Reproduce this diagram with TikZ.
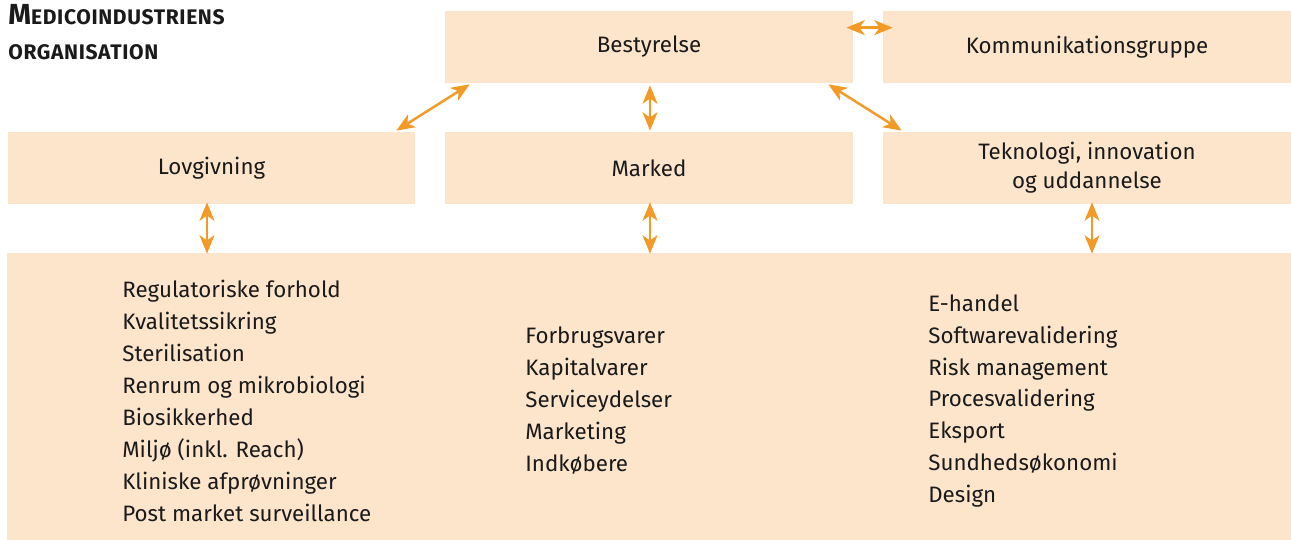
\documentclass[tikz,border=0pt]{standalone}
\usepackage{fontspec}
\setmainfont{Fira Sans}
\usetikzlibrary{arrows.meta,calc}
%
\definecolor{boxfill}{RGB}{253,229,204}
\definecolor{arrorange}{RGB}{243,154,38}
\definecolor{txt}{RGB}{26,26,26}
%
\tikzset{
  orgbox/.style={fill=boxfill, draw=none, minimum width=8.16cm, minimum height=1.44cm, inner sep=0pt},
  listtext/.style={anchor=west, align=left, inner sep=0pt},
  arr/.style={draw=arrorange, line width=1.4pt, {Stealth[length=10.5pt, width=8.5pt, inset=3pt]}-{Stealth[length=10.5pt, width=8.5pt, inset=3pt]}}
}
\begin{document}
\begin{tikzpicture}[x=0.02cm, y=0.02cm, font=\fontsize{12.7}{18.2}\selectfont, text=txt]
      \useasboundingbox (0,0) rectangle (1291,540);
      %
      \node[anchor=base west, inner sep=0pt, font=\bfseries\addfontfeature{LetterSpace=3}] (title1) at (8,515)
        {{\fontsize{16.5}{18}\selectfont M}{\fontsize{12}{13}\selectfont EDICOINDUSTRIENS}};
      \node[anchor=base west, inner sep=0pt, font=\bfseries\addfontfeature{LetterSpace=3}\fontsize{12}{13}\selectfont] (title2) at (8,480)
        {ORGANISATION};
      %
      \node[orgbox] (best) at (649,493) {Bestyrelse};                 % top row
      \node[orgbox] (komm) at (1087,493) {Kommunikationsgruppe};
      %
      \node[orgbox] (lov) at (211.5,372) {Lovgivning};                % middle row
      \node[orgbox] (mark) at (649,372) {Marked};
      \node[orgbox, align=center, font=\fontsize{12.7}{16.5}\selectfont] (tek) at (1087,372)
        {Teknologi, innovation\\og uddannelse};
      %
      \node[fill=boxfill, minimum width=25.68cm, minimum height=5.74cm, inner sep=0pt] (body) at (649,143.5) {};
      %
      \node[listtext] (lovlist) at (122,139) {Regulatoriske forhold\\Kvalitetssikring\\Sterilisation\\Renrum og mikrobiologi\\Biosikkerhed\\Miljø (inkl. Reach)\\Kliniske afprøvninger\\Post market surveillance};
      \node[listtext] (marklist) at (525,139) {Forbrugsvarer\\Kapitalvarer\\Serviceydelser\\Marketing\\Indkøbere};
      \node[listtext] (teklist) at (928,139) {E-handel\\Softwarevalidering\\Risk management\\Procesvalidering\\Eksport\\Sundhedsøkonomi\\Design};
      %
      %% arrows
      \draw[arr] ($(best.north east)+(-7,-17)$) -- ($(komm.north west)+(10,-17)$);
      \draw[arr] ($(best.south west)+(25,-1)$) -- ($(lov.north east)+(-19.5,1)$);
      \draw[arr] ($(best.south)+(1,-2)$) -- ($(mark.north)+(1,1)$);
      \draw[arr] ($(best.south east)+(-25,-1)$) -- ($(tek.north west)+(19,1)$);
      %
      \draw[arr] ($(lov.south)+(-4.5,2)$) -- ($(lov.south |- body.north)+(-4.5,-1)$);
      \draw[arr] ($(mark.south)+(1,2)$) -- ($(mark.south |- body.north)+(1,-1)$);
      \draw[arr] ($(tek.south)+(5,2)$) -- ($(tek.south |- body.north)+(5,-1)$);
      %
\end{tikzpicture}
\end{document}
